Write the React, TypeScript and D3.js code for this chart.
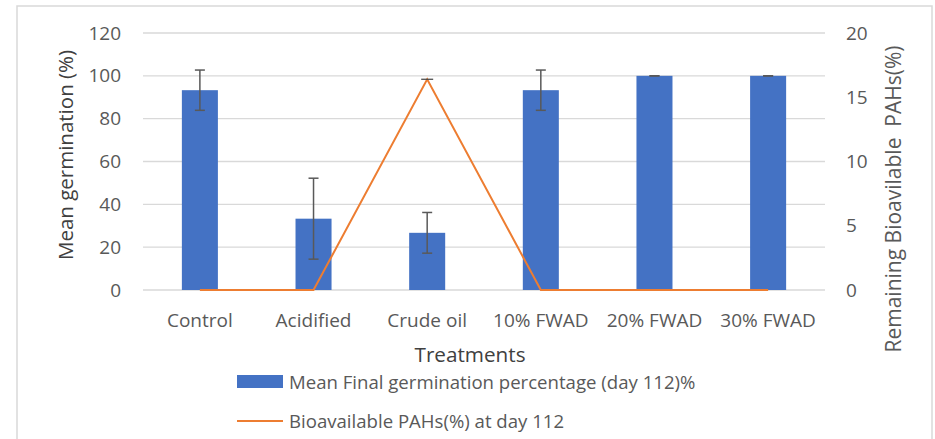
import React from "react";
import * as d3 from "d3";

const categories = ["Control", "Acidified", "Crude oil", "10% FWAD", "20% FWAD", "30% FWAD"];
const germination = [93.3, 33.3, 26.7, 93.3, 100, 100];
const germinationErr = [9.4, 18.9, 9.5, 9.4, 0, 0];
const pahs = [0, 0, 16.4, 0, 0, 0];
const leftTicks = [0, 20, 40, 60, 80, 100, 120];
const rightTicks = [0, 5, 10, 15, 20];

const W = 935;
const H = 439;
const FONT = "'Open Sans', 'Noto Sans', sans-serif";
const TXT = "#595959";

export default function App() {
  const x = d3.scaleBand<string>().domain(categories).range([143, 825]).paddingInner(0.683).paddingOuter(0.342);
  const xc = (c: string) => (x(c) as number) + x.bandwidth() / 2;
  const yL = d3.scaleLinear().domain([0, 120]).range([290, 33]);
  const yR = d3.scaleLinear().domain([0, 20]).range([290, 33]);
  const line = d3
    .line<number>()
    .x((_, i) => xc(categories[i]))
    .y((d) => yR(d));

  return (
    <svg width={W} height={H} style={{ position: "absolute", left: 0, top: 0 }}>
      <rect x={0} y={0} width={W} height={H} fill="#fff" />
      <rect x={17} y={6} width={915} height={450} fill="#fff" stroke="#d9d9d9" strokeWidth={1.5} />
      {leftTicks.map((t) => (
        <line key={t} x1={143} x2={825} y1={yL(t)} y2={yL(t)} stroke="#d9d9d9" strokeWidth={1.3} />
      ))}
      {categories.map((c, i) => (
        <rect
          key={c}
          x={x(c)}
          y={yL(germination[i])}
          width={x.bandwidth()}
          height={yL(0) - yL(germination[i])}
          fill="#4472c4"
        />
      ))}
      {categories.map((c, i) => {
        const cx = xc(c);
        const hi = yL(germination[i] + germinationErr[i]);
        const lo = yL(germination[i] - germinationErr[i]);
        return (
          <g key={c} stroke="#595959" strokeWidth={1.5}>
            <line x1={cx} x2={cx} y1={hi} y2={lo} />
            <line x1={cx - 5} x2={cx + 5} y1={hi} y2={hi} />
            <line x1={cx - 5} x2={cx + 5} y1={lo} y2={lo} />
          </g>
        );
      })}
      <path d={line(pahs) as string} fill="none" stroke="#ed7d31" strokeWidth={2} />
      <g stroke="#404040" strokeWidth={1.2}>
        <line x1={xc(categories[2]) - 6} x2={xc(categories[2]) + 6} y1={yR(pahs[2])} y2={yR(pahs[2])} />
      </g>
      {leftTicks.map((t) => (
        <text key={t} x={121} y={yL(t)} dy="0.35em" textAnchor="end" fontSize={19} fontFamily={FONT} fill={TXT}>
          {t}
        </text>
      ))}
      {rightTicks.map((t) => (
        <text key={t} x={846} y={yR(t)} dy="0.35em" textAnchor="start" fontSize={19} fontFamily={FONT} fill={TXT}>
          {t}
        </text>
      ))}
      {categories.map((c) => (
        <text key={c} x={xc(c)} y={320} dy="0.35em" textAnchor="middle" fontSize={19} fontFamily={FONT} fill={TXT}>
          {c}
        </text>
      ))}
      <text
        transform={`translate(66,155) rotate(-90)`}
        textAnchor="middle"
        dy="0.35em"
        fontSize={20.5}
        fontFamily={FONT}
        fill="#404040"
      >
        Mean germination (%)
      </text>
      <text
        transform={`translate(894,199) rotate(-90)`}
        textAnchor="middle"
        dy="0.35em"
        fontSize={21}
        fontFamily={FONT}
        fill={TXT}
        style={{ whiteSpace: "pre" }}
      >
        {"Remaining Bioavilable  PAHs(%)"}
      </text>
      <text x={470} y={355} dy="0.35em" textAnchor="middle" fontSize={20.7} fontFamily={FONT} fill="#404040">
        Treatments
      </text>
      <rect x={237} y={375} width={46} height={13} fill="#4472c4" />
      <text x={289} y={382} dy="0.35em" fontSize={18.6} fontFamily={FONT} fill={TXT}>
        Mean Final germination percentage (day 112)%
      </text>
      <line x1={237} x2={283} y1={421} y2={421} stroke="#ed7d31" strokeWidth={2} />
      <text x={289} y={421} dy="0.35em" fontSize={18.6} fontFamily={FONT} fill={TXT}>
        Bioavailable PAHs(%) at day 112
      </text>
    </svg>
  );
}
